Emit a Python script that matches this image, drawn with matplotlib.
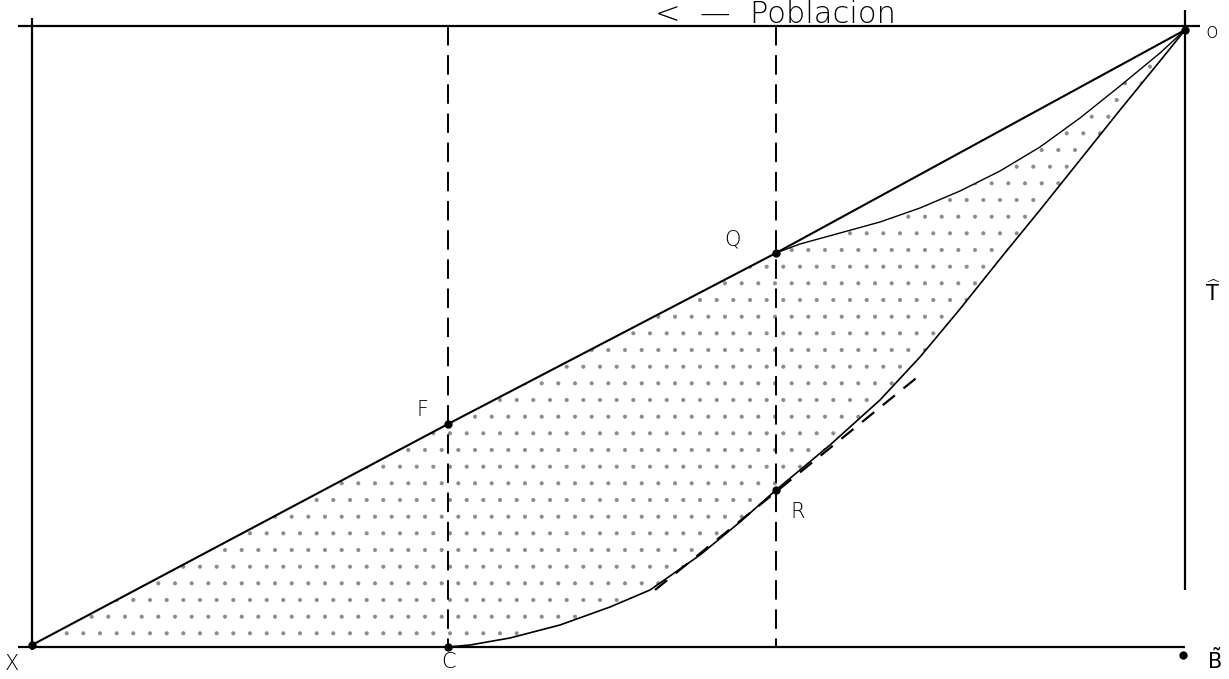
import matplotlib
matplotlib.use("Agg")
import matplotlib.pyplot as plt

# ---- diagram data (image-like coordinates, y grows downwards) ----
frame_x = [32, 1185]          # left / right verticals
frame_y = [26, 647]           # top / bottom horizontals
dashed_x = [448, 776]         # C-F and R-Q verticals

# straight line X -> F -> Q -> O
line_x = [32, 448, 776, 1185]
line_y = [645, 424, 253, 30]

# upper arc Q -> O
arc_x = [776, 800, 840, 880, 920, 960, 1000, 1040, 1080, 1120, 1160, 1185]
arc_y = [253, 244, 233, 222, 208, 191, 171, 147, 118, 86, 53, 30]

# lower curve C -> R -> O
low_x = [448, 470, 510, 560, 610, 650, 700, 740, 776, 830, 880, 920, 960, 1000, 1040, 1080, 1120, 1160, 1185]
low_y = [647, 645, 638, 625, 607, 590, 555, 522, 490, 445, 400, 357, 309, 259, 210, 160, 110, 61, 30]

# tangent at R
tan_x = [655, 920]
tan_y = [590, 375]

pts_x = [448, 776, 776, 448, 32, 1185, 1183]
pts_y = [424, 253, 490, 647, 645, 30, 655]

labels = ["Q", "F", "R", "C", "X", "o",
          r"$\tilde{\mathrm{B}}$", r"$\widehat{\mathrm{T}}$"]
lab_x = [733, 422, 798, 449, 12, 1212, 1214, 1213]
lab_y = [240, 410, 512, 662, 664, 32, 660, 292]


def main() -> None:
    fig = plt.figure(figsize=(12.29, 6.79), dpi=100)
    ax = fig.add_axes([0, 0, 1, 1])
    ax.set_xlim(0, 1229)
    ax.set_ylim(679, 0)
    ax.axis("off")

    k = dict(color="black", lw=1.6, solid_capstyle="butt")

    # frame
    ax.plot([18, 1200], [frame_y[0], frame_y[0]], **k)
    ax.plot([18, frame_x[1]], [frame_y[1], frame_y[1]], **k)
    ax.plot([frame_x[0], frame_x[0]], [18, 650], **k)
    ax.plot([frame_x[1], frame_x[1]], [10, 590], **k)

    # dashed verticals
    for xv in dashed_x:
        ax.plot([xv, xv], [frame_y[0], frame_y[1]], color="black", lw=1.4,
                dashes=(10, 5))

    # stippled region
    poly_x = line_x[:3] + arc_x[1:] + low_x[::-1] + [32]
    poly_y = line_y[:3] + arc_y[1:] + low_y[::-1] + [647]
    plt.rcParams["hatch.linewidth"] = 0.5
    ax.fill(poly_x, poly_y, facecolor="none", edgecolor="#8a8a8a", lw=0,
            hatch=".")

    # curves
    ax.plot(line_x, line_y, color="black", lw=1.5)
    ax.plot(arc_x, arc_y, color="black", lw=1.0)
    ax.plot(low_x, low_y, color="black", lw=1.2)
    ax.plot(tan_x, tan_y, color="black", lw=1.6, dashes=(7, 5))

    ax.plot(pts_x, pts_y, "o", color="black", ms=5)

    for s, x, y in zip(labels, lab_x, lab_y):
        ax.text(x, y, s, fontsize=15, ha="center", va="center",
                fontweight="light")

    ax.text(775, 23, "<  \u2014  Poblacion", fontsize=22, ha="center",
            va="baseline", fontweight="light")

    fig.savefig("out.png", dpi=100)


if __name__ == "__main__":
    main()
